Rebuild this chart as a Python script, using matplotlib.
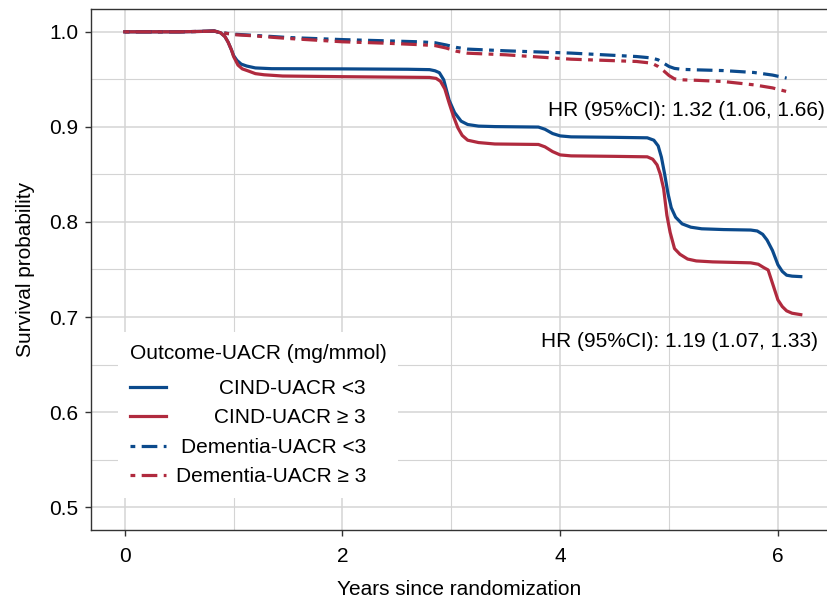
import matplotlib
matplotlib.use("Agg")
import matplotlib.pyplot as plt
from matplotlib.ticker import MultipleLocator

plt.rcParams['font.family'] = ['Liberation Sans', 'DejaVu Sans']

# Kaplan-Meier style curves
cind_low_x = [0, 0.5, 0.75, 0.82, 0.88, 0.92, 0.95, 0.98, 1.0, 1.03, 1.07, 1.12, 1.2, 1.35,
              2.0, 2.6, 2.8, 2.85, 2.89, 2.93, 2.98, 3.03, 3.09, 3.15, 3.25, 3.4,
              3.8, 3.86, 3.93, 4.0, 4.1, 4.5, 4.8, 4.86, 4.9, 4.93, 4.96, 4.99, 5.02, 5.06,
              5.12, 5.2, 5.3, 5.5, 5.75, 5.81, 5.86, 5.9, 5.95, 6.0, 6.04, 6.08, 6.13, 6.21]
cind_low_y = [1.0, 1.0, 1.0005, 1.0008, 0.999, 0.995, 0.989, 0.981, 0.975, 0.970, 0.966, 0.964,
              0.962, 0.9612, 0.961, 0.9606, 0.9602, 0.959, 0.957, 0.9495, 0.928, 0.915, 0.906,
              0.9025, 0.9008, 0.9003, 0.8998, 0.8975, 0.893, 0.8905, 0.8895, 0.889, 0.8885,
              0.886, 0.88, 0.868, 0.85, 0.83, 0.815, 0.805, 0.798, 0.7945, 0.7928, 0.792,
              0.7915, 0.7905, 0.787, 0.781, 0.77, 0.755, 0.748, 0.744, 0.743, 0.7425]

cind_high_x = [0, 0.5, 0.75, 0.82, 0.88, 0.92, 0.95, 0.98, 1.0, 1.04, 1.08, 1.13, 1.2, 1.28,
               1.45, 2.0, 2.6, 2.8, 2.86, 2.9, 2.94, 2.98, 3.02, 3.06, 3.1, 3.15, 3.25, 3.4,
               3.8, 3.86, 3.93, 4.0, 4.1, 4.5, 4.8, 4.85, 4.89, 4.92, 4.95, 4.98, 5.01, 5.05,
               5.1, 5.17, 5.25, 5.4, 5.75, 5.82, 5.87, 5.91, 5.96, 6.0, 6.04, 6.08, 6.13, 6.21]
cind_high_y = [1.0, 1.0, 1.0005, 1.0008, 0.999, 0.995, 0.989, 0.981, 0.974, 0.965, 0.961, 0.959,
               0.956, 0.9548, 0.9535, 0.9528, 0.9522, 0.952, 0.951, 0.948, 0.94, 0.925, 0.911,
               0.899, 0.891, 0.886, 0.8835, 0.882, 0.8815, 0.879, 0.874, 0.8705, 0.8695,
               0.869, 0.8685, 0.866, 0.86, 0.85, 0.835, 0.807, 0.789, 0.772, 0.766, 0.761,
               0.759, 0.758, 0.757, 0.7555, 0.752, 0.7495, 0.732, 0.718, 0.711, 0.7065,
               0.704, 0.7025]

dem_x = [0, 0.5, 0.75, 0.82, 0.9, 1.0, 1.15, 1.5, 2.0, 2.4, 2.7, 2.85, 2.95, 3.05, 3.15, 3.5,
         4.1, 4.7, 4.84, 4.9, 4.95, 5.0, 5.05, 5.12, 5.25, 5.5, 5.78, 5.95, 6.08]
dem_low_y = [1.0, 1.0, 1.0005, 1.0008, 0.999, 0.9975, 0.9965, 0.994, 0.9918, 0.9905, 0.9895,
             0.9885, 0.9862, 0.9835, 0.9818, 0.980, 0.9776, 0.974, 0.9725, 0.9705, 0.967,
             0.9635, 0.9615, 0.9605, 0.960, 0.9592, 0.9572, 0.9545, 0.9513]
dem_high_y = [1.0, 1.0, 1.0005, 1.0008, 0.999, 0.997, 0.996, 0.993, 0.9895, 0.988, 0.9865,
              0.9855, 0.983, 0.9795, 0.9775, 0.9758, 0.9712, 0.9688, 0.967, 0.9635, 0.959,
              0.954, 0.9505, 0.9495, 0.949, 0.9477, 0.9442, 0.941, 0.9372]

labels = ["CIND-UACR <3", "CIND-UACR \u2265 3", "Dementia-UACR <3", "Dementia-UACR \u2265 3"]
hr_dementia = "HR (95%CI): 1.32 (1.06, 1.66)"
hr_cind = "HR (95%CI): 1.19 (1.07, 1.33)"

blue = '#0b4a8c'
red = '#b02a3e'
fs = 15
lw = 2.3
dashdot = (6.9, (4.9, 2.0, 1.5, 2.0))  # starts on the dot, like the legend keys

fig = plt.figure(figsize=(8.28, 5.99), dpi=100)
ax = fig.add_axes([0.1099, 0.1152, 0.8901, 0.8698])

ax.plot(cind_low_x, cind_low_y, color=blue, lw=lw, label=labels[0])
ax.plot(cind_high_x, cind_high_y, color=red, lw=lw, label=labels[1])
ax.plot(dem_x, dem_low_y, color=blue, lw=lw, linestyle=dashdot, label=labels[2])
ax.plot(dem_x, dem_high_y, color=red, lw=lw, linestyle=dashdot, label=labels[3])

ax.text(6.435, 0.917, hr_dementia, ha='right', va='center', fontsize=fs)
ax.text(6.37, 0.674, hr_cind, ha='right', va='center', fontsize=fs)

ax.set_xlim(-0.31, 6.46)
ax.set_ylim(0.476, 1.024)
ax.xaxis.set_major_locator(MultipleLocator(2))
ax.xaxis.set_minor_locator(MultipleLocator(1))
ax.yaxis.set_major_locator(MultipleLocator(0.1))
ax.yaxis.set_minor_locator(MultipleLocator(0.05))
ax.xaxis.set_major_formatter(lambda v, p: f"{v:.0f}")
ax.yaxis.set_major_formatter(lambda v, p: f"{v:.1f}")

ax.set_axisbelow(True)
ax.grid(which='major', color='#d4d4d4', lw=1.1)
ax.grid(which='minor', color='#d4d4d4', lw=0.8)
ax.tick_params(axis='x', which='major', pad=8)
ax.tick_params(which='major', length=4, width=1, color='#333333', labelsize=fs)
ax.tick_params(axis='y', which='major', pad=5)
ax.tick_params(which='minor', length=0)

for side in ['left', 'bottom', 'top']:
    ax.spines[side].set_color('#333333')
    ax.spines[side].set_linewidth(1.0)
ax.spines['right'].set_visible(False)

ax.set_xlabel("Years since randomization", fontsize=fs, labelpad=10)
ax.set_ylabel("Survival probability", fontsize=fs, labelpad=10)

leg = ax.legend(title="Outcome-UACR (mg/mmol)", loc='lower left',
                bbox_to_anchor=(0.037, 0.062), borderaxespad=0, fontsize=fs,
                title_fontsize=fs, frameon=True, fancybox=False, edgecolor='none',
                facecolor='white', framealpha=1, handlelength=1.75, handletextpad=0.45,
                labelspacing=0.5, borderpad=0.55, alignment='left')
leg._legend_box.sep = 11.7  # extra gap below the title

# right-align the legend labels like the original
renderer = fig.canvas.get_renderer()
widths = [t.get_window_extent(renderer).width for t in leg.get_texts()]
shift = max(widths)
for t, w in zip(leg.get_texts(), widths):
    t.set_position((shift - w, 0))

fig.savefig("out.png", dpi=100)
